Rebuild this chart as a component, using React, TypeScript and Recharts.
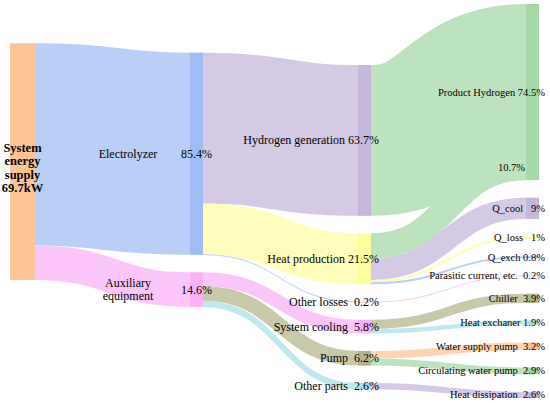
import React from 'react';
import { Sankey } from 'recharts';

// nodes, column by column
const nodeNames = [
    'System\nenergy\nsupply',
    'Electrolyzer', 'Auxiliary\nequipment',
    'Hydrogen generation', 'Heat production', 'Other losses', 'System cooling', 'Pump', 'Other parts',
    'Product Hydrogen', 'Q_cool', 'Q_loss', 'Q_exch', 'Parasitic current, etc.', 'Chiller',
    'Heat exchaner', 'Water supply pump', 'Circulating water pump', 'Heat dissipation',
];
const nodeValues = [
    '69.7kW',
    '85.4%', '14.6%',
    '63.7%', '21.5%', ' 0.2%', ' 5.8%', ' 6.2%', ' 2.6%',
    '74.5%', '  9%', '  1%', '0.8%', ' 0.2%', ' 3.9%', '1.9%', ' 3.2%', ' 2.9%', ' 2.6%',
];
const nodeColors = [
    '#fba254',
    '#6495ed', '#f880f6',
    '#a289c5', '#fdfb63', '#6495ed', '#f880f6', '#858740', '#71cedb',
    '#6ac16c', '#a289c5', '#fdfb63', '#6495ed', '#f880f6', '#858740', '#71cedb', '#fba254', '#6ac16c', '#a289c5',
];

const linkSources = [0, 0, 1, 1, 1, 2, 2, 2, 3, 4, 4, 4, 4, 5, 6, 6, 7, 7, 8];
const linkTargets = [1, 2, 3, 4, 5, 6, 7, 8, 9, 9, 10, 11, 12, 13, 14, 15, 16, 17, 18];
const linkValues = [85.4, 14.6, 63.7, 21.5, 0.2, 5.8, 6.2, 2.6, 63.7, 10.7, 9, 1, 0.8, 0.2, 3.9, 1.9, 3.2, 2.9, 2.6];
const linkLabels = ['', '', '', '', '', '', '', '', '', '10.7%', '', '', '', '', '', '', '', '', ''];

const data = {
    nodes: nodeNames.map((name, i) => ({ name, label: nodeValues[i], color: nodeColors[i] })),
    links: linkSources.map((source, i) => ({ source, target: linkTargets[i], value: linkValues[i], label: linkLabels[i] })),
};

const FONT = '"Liberation Serif", "Times New Roman", serif';
const LINE = 13.3;

// blend a colour with white so overlapping links do not darken
const tint = (hex: string, a: number) => {
    const n = parseInt(hex.slice(1), 16);
    const c = [(n >> 16) & 255, (n >> 8) & 255, n & 255].map(v => Math.round(255 - a * (255 - v)));
    return `rgb(${c[0]},${c[1]},${c[2]})`;
};

const SankeyNode = (props: any) => {
    const { x, y, width, height, payload } = props;
    const cy = y + height / 2;
    const name: string = payload.name;
    const value: string = payload.label;
    const fill = tint(payload.color, 0.62);

    if (payload.depth === 0) {
        const lines = name.split('\n').concat(value);
        const first = cy + 6.5 + 4 - ((lines.length - 1) * LINE) / 2;
        const cx = x - 12 + (width + 12) / 2;
        return <g>
            <rect x={x - 12} y={y} width={width + 12} height={height} fill={fill} />
            <text x={cx} y={first} textAnchor="middle" style={{ fontFamily: FONT }} fontSize={12.5} fontWeight="bold" fill="#000">
                {lines.map((l, i) => <tspan key={i} x={cx} y={first + i * LINE}>{l}</tspan>)}
            </text>
        </g>;
    }

    if (payload.depth === 1) {
        const lines = name.split('\n');
        const first = cy + 4 - ((lines.length - 1) * LINE) / 2;
        const nx = x - 62;
        return <g>
            <rect x={x} y={y} width={width} height={height} fill={fill} />
            <text x={nx} y={first} textAnchor="middle" style={{ fontFamily: FONT }} fontSize={12} fill="#000">
                {lines.map((l, i) => <tspan key={i} x={nx} y={first + i * LINE}>{l}</tspan>)}
            </text>
            <text x={x + width / 2} y={cy + 4} textAnchor="middle" style={{ fontFamily: FONT }} fontSize={12} fill="#000">{value}</text>
        </g>;
    }

    const last = payload.depth === 3;
    return <g>
        <rect x={x} y={y} width={width} height={Math.max(height, 0.6)} fill={fill} />
        <text x={x + width + (last ? 6 : 8)} y={cy + (last ? 3.5 : 4)} textAnchor="end"
            fontSize={last ? 10.5 : 12} fill="#000" style={{ whiteSpace: 'pre', fontFamily: FONT }}>
            {`${name} ${value}`}
        </text>
    </g>;
};

const SankeyLink = (props: any) => {
    const { sourceX, targetX, sourceY, targetY, sourceControlX, targetControlX, linkWidth, payload } = props;
    const target = typeof payload.target === 'object' ? payload.target : data.nodes[payload.target];
    return <g>
        <path
            d={`M${sourceX},${sourceY} C${sourceControlX},${sourceY} ${targetControlX},${targetY} ${targetX},${targetY}`}
            fill="none"
            stroke={tint(target.color, 0.45)}
            strokeWidth={Math.max(linkWidth, 1)}
        />
        {payload.label ?
            <text x={targetX - 1} y={targetY + 3.5} textAnchor="end" style={{ fontFamily: FONT }} fontSize={10.5} fill="#000">{payload.label}</text>
            : null}
    </g>;
};

export default function App() {
    return <div style={{ position: 'absolute', left: 0, top: 0, background: '#fff' }}>
        <Sankey
            width={550}
            height={406}
            data={data}
            node={SankeyNode}
            link={SankeyLink}
            nodeWidth={13}
            nodePadding={17.5}
            sort={false}
            margin={{ top: 4, right: 11, bottom: 8, left: 22 }}
        />
    </div>;
}
